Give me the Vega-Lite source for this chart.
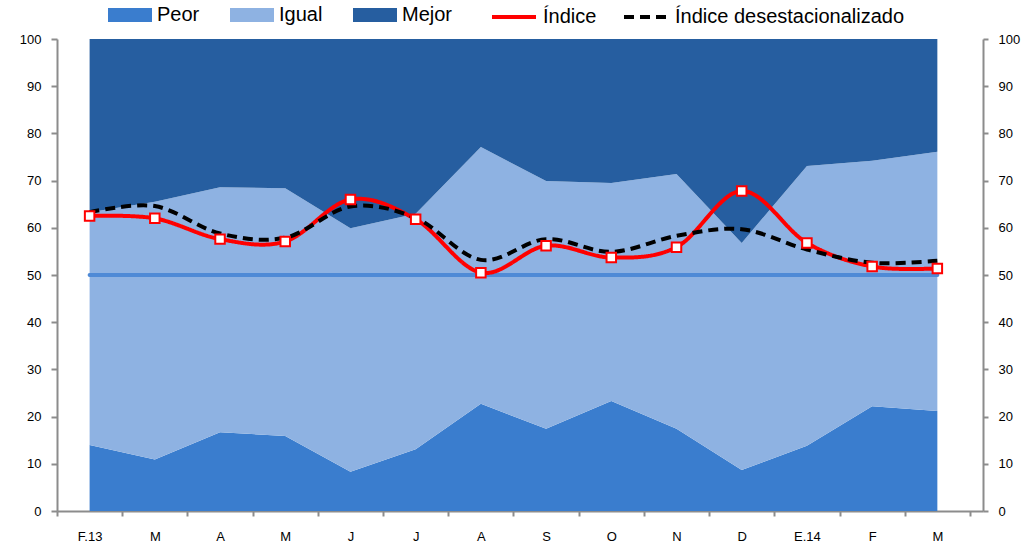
{
  "$schema": "https://vega.github.io/schema/vega-lite/v6.json",
  "width": 926,
  "height": 472,
  "autosize": "none",
  "padding": {"left": 57, "top": 39, "right": 44, "bottom": 37},
  "background": "white",
  "config": {"view": {"stroke": null}, "font": "Liberation Sans", "axis": {"grid": false}},
  "datasets": {
    "resp": [
      {"i": 0, "serie": "Peor", "n": 1, "valor": 14.0},
      {"i": 1, "serie": "Peor", "n": 1, "valor": 10.9},
      {"i": 2, "serie": "Peor", "n": 1, "valor": 16.7},
      {"i": 3, "serie": "Peor", "n": 1, "valor": 15.9},
      {"i": 4, "serie": "Peor", "n": 1, "valor": 8.3},
      {"i": 5, "serie": "Peor", "n": 1, "valor": 13.1},
      {"i": 6, "serie": "Peor", "n": 1, "valor": 22.7},
      {"i": 7, "serie": "Peor", "n": 1, "valor": 17.4},
      {"i": 8, "serie": "Peor", "n": 1, "valor": 23.3},
      {"i": 9, "serie": "Peor", "n": 1, "valor": 17.4},
      {"i": 10, "serie": "Peor", "n": 1, "valor": 8.7},
      {"i": 11, "serie": "Peor", "n": 1, "valor": 13.8},
      {"i": 12, "serie": "Peor", "n": 1, "valor": 22.2},
      {"i": 13, "serie": "Peor", "n": 1, "valor": 21.2},
      {"i": 0, "serie": "Igual", "n": 2, "valor": 49.3},
      {"i": 1, "serie": "Igual", "n": 2, "valor": 54.6},
      {"i": 2, "serie": "Igual", "n": 2, "valor": 51.9},
      {"i": 3, "serie": "Igual", "n": 2, "valor": 52.5},
      {"i": 4, "serie": "Igual", "n": 2, "valor": 51.6},
      {"i": 5, "serie": "Igual", "n": 2, "valor": 49.9},
      {"i": 6, "serie": "Igual", "n": 2, "valor": 54.4},
      {"i": 7, "serie": "Igual", "n": 2, "valor": 52.5},
      {"i": 8, "serie": "Igual", "n": 2, "valor": 46.2},
      {"i": 9, "serie": "Igual", "n": 2, "valor": 54.0},
      {"i": 10, "serie": "Igual", "n": 2, "valor": 48.1},
      {"i": 11, "serie": "Igual", "n": 2, "valor": 59.3},
      {"i": 12, "serie": "Igual", "n": 2, "valor": 52.0},
      {"i": 13, "serie": "Igual", "n": 2, "valor": 54.9},
      {"i": 0, "serie": "Mejor", "n": 3, "valor": 36.7},
      {"i": 1, "serie": "Mejor", "n": 3, "valor": 34.5},
      {"i": 2, "serie": "Mejor", "n": 3, "valor": 31.4},
      {"i": 3, "serie": "Mejor", "n": 3, "valor": 31.6},
      {"i": 4, "serie": "Mejor", "n": 3, "valor": 40.1},
      {"i": 5, "serie": "Mejor", "n": 3, "valor": 37.0},
      {"i": 6, "serie": "Mejor", "n": 3, "valor": 22.9},
      {"i": 7, "serie": "Mejor", "n": 3, "valor": 30.1},
      {"i": 8, "serie": "Mejor", "n": 3, "valor": 30.5},
      {"i": 9, "serie": "Mejor", "n": 3, "valor": 28.6},
      {"i": 10, "serie": "Mejor", "n": 3, "valor": 43.2},
      {"i": 11, "serie": "Mejor", "n": 3, "valor": 26.9},
      {"i": 12, "serie": "Mejor", "n": 3, "valor": 25.8},
      {"i": 13, "serie": "Mejor", "n": 3, "valor": 23.9}
    ],
    "ind": [
      {"i": 0, "mes": "F.13", "Índice": 62.5, "Índice desestacionalizado": 63.3},
      {"i": 1, "mes": "M", "Índice": 62.0, "Índice desestacionalizado": 64.6},
      {"i": 2, "mes": "A", "Índice": 57.6, "Índice desestacionalizado": 58.8},
      {"i": 3, "mes": "M", "Índice": 57.1, "Índice desestacionalizado": 57.9},
      {"i": 4, "mes": "J", "Índice": 66.0, "Índice desestacionalizado": 64.5},
      {"i": 5, "mes": "J", "Índice": 61.8, "Índice desestacionalizado": 62.1},
      {"i": 6, "mes": "A", "Índice": 50.5, "Índice desestacionalizado": 53.2},
      {"i": 7, "mes": "S", "Índice": 56.2, "Índice desestacionalizado": 57.6},
      {"i": 8, "mes": "O", "Índice": 53.7, "Índice desestacionalizado": 54.9},
      {"i": 9, "mes": "N", "Índice": 55.9, "Índice desestacionalizado": 58.3},
      {"i": 10, "mes": "D", "Índice": 67.8, "Índice desestacionalizado": 59.7},
      {"i": 11, "mes": "E.14", "Índice": 56.8, "Índice desestacionalizado": 55.4},
      {"i": 12, "mes": "F", "Índice": 51.8, "Índice desestacionalizado": 52.6},
      {"i": 13, "mes": "M", "Índice": 51.4, "Índice desestacionalizado": 53.0}
    ]
  },
  "layer": [
    {
      "data": {"name": "resp"},
      "mark": {"type": "area", "opacity": 1},
      "encoding": {
        "x": {
          "field": "i", "type": "quantitative",
          "scale": {"domain": [-0.5, 13.7], "nice": false, "zero": false},
          "axis": {
            "orient": "bottom", "title": null,
            "values": [0, 1, 2, 3, 4, 5, 6, 7, 8, 9, 10, 11, 12, 13],
            "labelExpr": "['F.13','M','A','M','J','J','A','S','O','N','D','E.14','F','M'][datum.value]",
            "tickSize": 0, "labelPadding": 19, "labelFontSize": 13, "labelColor": "#000000",
            "labelOverlap": false, "labelFlush": false,
            "domainColor": "#8c8c8c", "domainWidth": 2
          }
        },
        "y": {
          "field": "valor", "type": "quantitative", "stack": "zero",
          "scale": {"domain": [0, 100], "nice": false},
          "axis": {
            "orient": "left", "title": null,
            "values": [0, 10, 20, 30, 40, 50, 60, 70, 80, 90, 100],
            "tickSize": 6, "tickWidth": 2, "tickColor": "#8c8c8c",
            "domainColor": "#8c8c8c", "domainWidth": 2,
            "labelPadding": 10, "labelFontSize": 13, "labelColor": "#000000"
          }
        },
        "color": {
          "field": "serie", "type": "nominal",
          "scale": {"domain": ["Peor", "Igual", "Mejor"], "range": ["#3A7DCE", "#8EB2E2", "#265EA0"]},
          "legend": {
            "orient": "none", "legendX": 51, "legendY": -46, "direction": "horizontal",
            "title": null, "symbolSize": 1936, "symbolType": "M-1,-0.32H1V0.32H-1Z",
            "symbolStrokeWidth": 0, "symbolOpacity": 1,
            "labelFontSize": 20, "labelColor": "#000000",
            "labelOffset": 5, "columnPadding": 30, "padding": 0, "labelLimit": 0
          }
        },
        "order": {"field": "n", "type": "quantitative"}
      }
    },
    {
      "data": {"values": [{"ref": 50, "desde": 0, "hasta": 13}]},
      "mark": {"type": "rule", "color": "#4F8AD6", "strokeWidth": 4, "strokeCap": "round"},
      "encoding": {
        "x": {
          "field": "desde", "type": "quantitative",
          "scale": {"domain": [-0.5, 13.7], "nice": false, "zero": false},
          "axis": {
            "orient": "bottom", "title": null,
            "values": [-0.5, 0.5, 1.5, 2.5, 3.5, 4.5, 5.5, 6.5, 7.5, 8.5, 9.5, 10.5, 11.5, 12.5, 13.5],
            "labels": false, "domain": false, "tickSize": 5, "tickWidth": 2, "tickColor": "#8c8c8c"
          }
        },
        "x2": {"field": "hasta"},
        "y": {
          "field": "ref", "type": "quantitative",
          "scale": {"domain": [0, 100], "nice": false},
          "axis": {
            "orient": "right", "title": null,
            "values": [0, 10, 20, 30, 40, 50, 60, 70, 80, 90, 100],
            "tickSize": 5, "tickWidth": 2, "tickColor": "#8c8c8c",
            "domainColor": "#8c8c8c", "domainWidth": 2,
            "labelPadding": 10, "labelFontSize": 13, "labelColor": "#000000"
          }
        }
      }
    },
    {
      "data": {"name": "ind"},
      "transform": [
        {"fold": ["Índice", "Índice desestacionalizado"], "as": ["linea", "valor"]}
      ],
      "mark": {"type": "line", "interpolate": "cardinal", "strokeWidth": 4},
      "encoding": {
        "x": {"field": "i", "type": "quantitative", "scale": {"domain": [-0.5, 13.7], "nice": false, "zero": false}, "axis": null},
        "y": {"field": "valor", "type": "quantitative", "scale": {"domain": [0, 100], "nice": false}, "axis": null},
        "stroke": {
          "field": "linea", "type": "nominal",
          "scale": {"domain": ["Índice", "Índice desestacionalizado"], "range": ["#FF0000", "#000000"]},
          "legend": {
            "orient": "none", "legendX": 433, "legendY": -46, "direction": "horizontal",
            "title": null, "symbolSize": 1936, "symbolType": "stroke", "symbolStrokeWidth": 4,
            "labelFontSize": 20, "labelColor": "#000000",
            "labelOffset": 5, "columnPadding": 19, "padding": 0, "labelLimit": 0
          }
        },
        "strokeDash": {
          "field": "linea", "type": "nominal",
          "scale": {"domain": ["Índice", "Índice desestacionalizado"], "range": [[1, 0], [10, 6]]}
        }
      }
    },
    {
      "data": {"name": "ind"},
      "mark": {"type": "point", "shape": "square", "filled": true, "fill": "#ffffff", "stroke": "#FF0000", "strokeWidth": 2, "size": 90, "opacity": 1},
      "encoding": {
        "x": {"field": "i", "type": "quantitative", "scale": {"domain": [-0.5, 13.7], "nice": false, "zero": false}, "axis": null},
        "y": {"field": "Índice", "type": "quantitative", "scale": {"domain": [0, 100], "nice": false}, "axis": null}
      }
    }
  ],
  "resolve": {"axis": {"x": "independent", "y": "independent"}}
}
